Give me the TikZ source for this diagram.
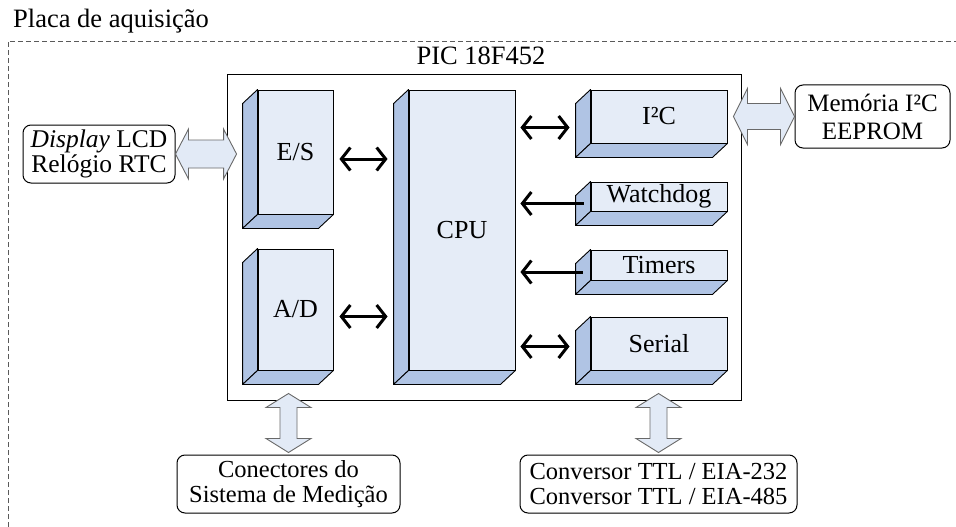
\documentclass[tikz,border=0pt]{standalone}
\usepackage{fontspec}
\setmainfont{Liberation Serif}
\usetikzlibrary{arrows.meta,calc}
\definecolor{frontc}{RGB}{229,236,247}
\definecolor{sidec}{RGB}{176,196,228}
\definecolor{barfill}{RGB}{226,234,246}
\definecolor{bargray}{RGB}{105,105,105}
\definecolor{framegray}{RGB}{90,90,90}
\tikzset{
  frontface/.style={draw=black, line width=0.9pt, fill=frontc, inner sep=0pt, font=\fontsize{26}{28}\selectfont},
  sideface/.style={draw=black, line width=0.9pt, fill=sidec, line join=round},
  roundbox/.style={draw=black, line width=1pt, fill=white, rounded corners=8pt, inner sep=0pt, align=center, font=\fontsize{24.5}{25}\selectfont},
  barrow/.style={draw=bargray, line width=0.9pt, fill=barfill, line join=miter},
  link/.style={line width=3pt, -{Straight Barb[length=9pt,width=23pt]}},
  blink/.style={line width=3pt, {Straight Barb[length=9pt,width=23pt]}-{Straight Barb[length=9pt,width=23pt]}},
  frameline/.style={draw=framegray, line width=0.9pt, dash pattern=on 5pt off 3pt},
}
\newcommand{\tdbox}[6]{%
  \node[frontface, minimum width=#4, minimum height=#5] (#1) at (#2,#3) {#6};
  \draw[sideface] (#1.north west) -- ++(-15,14) -- ([shift={(-15,14)}]#1.south west) -- (#1.south west) -- cycle;
  \draw[sideface] (#1.south west) -- ([shift={(-15,14)}]#1.south west) -- ([shift={(-15,14)}]#1.south east) -- (#1.south east) -- cycle;
}
\newcommand{\hbarrow}[5]{%
  \draw[barrow] let \p1=#1, \p2=#2 in (\x1,\y1) -- (\x1+#5,\y1+#4) -- (\x1+#5,\y1+#3) -- (\x2-#5,\y1+#3) -- (\x2-#5,\y1+#4) -- (\x2,\y1) -- (\x2-#5,\y1-#4) -- (\x2-#5,\y1-#3) -- (\x1+#5,\y1-#3) -- (\x1+#5,\y1-#4) -- cycle;
}
\newcommand{\vbarrow}[5]{%
  \draw[barrow] let \p1=#1, \p2=#2 in (\x2,\y1) -- (\x2+#4,\y1-#5) -- (\x2+#3,\y1-#5) -- (\x2+#3,\y2+#5) -- (\x2+#4,\y2+#5) -- (\x2,\y2) -- (\x2-#4,\y2+#5) -- (\x2-#3,\y2+#5) -- (\x2-#3,\y1-#5) -- (\x2-#4,\y1-#5) -- cycle;
}
\begin{document}
\begin{tikzpicture}[x=1pt,y=-1pt]
\useasboundingbox (0,0) rectangle (956,527);
% outer dashed frame
\draw[frameline] (8,527) -- (8,41) -- (958,41);
\node[anchor=base west, inner sep=0pt, font=\fontsize{26.5}{28}\selectfont] (title) at (13,28) {Placa de aquisição};
% PIC box
\node[draw=black, line width=1pt, minimum width=514, minimum height=325, inner sep=0pt] (pic) at (484,237.5) {};
\node[anchor=base, inner sep=0pt, font=\fontsize{26.5}{28}\selectfont] (piclbl) at (481,65) {PIC 18F452};
% 3D blocks
\tdbox{es}{295.5}{152}{75}{124}{E/S}
\tdbox{ad}{295.5}{309.5}{75}{121}{A/D}
\tdbox{cpu}{462}{230}{106}{280}{CPU}
\tdbox{i2c}{659}{116.5}{136}{53}{I²C}
\tdbox{wd}{659}{196.5}{136}{29}{Watchdog}
\tdbox{tim}{659}{265}{136}{30}{Timers}
\tdbox{ser}{659}{343.5}{136}{53}{Serial}
% external boxes
\node[roundbox, minimum width=152, minimum height=58, font=\fontsize{25.5}{23}\selectfont] (disp) at (99,154) {\textit{Display} LCD\\Relógio RTC};
\node[roundbox, minimum width=155, minimum height=63, font=\fontsize{25}{28}\selectfont] (mem) at (872.5,116.5) {Memória I²C\\EEPROM};
\node[roundbox, minimum width=223, minimum height=58] (conn) at (288.5,484) {Conectores do\\Sistema de Medição};
\node[roundbox, minimum width=277, minimum height=58] (conv) at (658.5,484) {Conversor TTL / EIA-232\\Conversor TTL / EIA-485};
% internal connectors
\coordinate (cpuL) at ($(cpu.west)+(-21,0)$);
\coordinate (cpuR) at ($(cpu.east)+(5,0)$);
\draw[blink] ($(es.east)+(6,7)$) coordinate (esA) -- (cpuL |- esA);
\draw[blink] ($(ad.east)+(6,7)$) coordinate (adA) -- (cpuL |- adA);
\draw[blink] (cpuR |- {$(i2c.west)+(0,11)$}) -- ($(i2c.west)+(-21,11)$);
\draw[link] ($(wd.west)+(-7,7)$) coordinate (wdA) -- (cpuR |- wdA);
\draw[link] ($(tim.west)+(-8,7)$) coordinate (timA) -- (cpuR |- timA);
\draw[blink] (cpuR |- {$(ser.west)+(0,3)$}) -- ($(ser.west)+(-21,3)$);
% block arrows
\hbarrow{(disp.east)}{([xshift=-21pt]es.west)}{14pt}{25pt}{13pt}
\hbarrow{([xshift=6pt]i2c.east)}{(mem.west)}{13pt}{28pt}{14pt}
\vbarrow{([yshift=7pt]pic.south)}{([yshift=2pt]conn.north)}{8.5pt}{22.5pt}{14pt}
\vbarrow{([yshift=7pt]pic.south)}{([yshift=2pt]conv.north)}{8.5pt}{22.5pt}{14pt}
\end{tikzpicture}
\end{document}
